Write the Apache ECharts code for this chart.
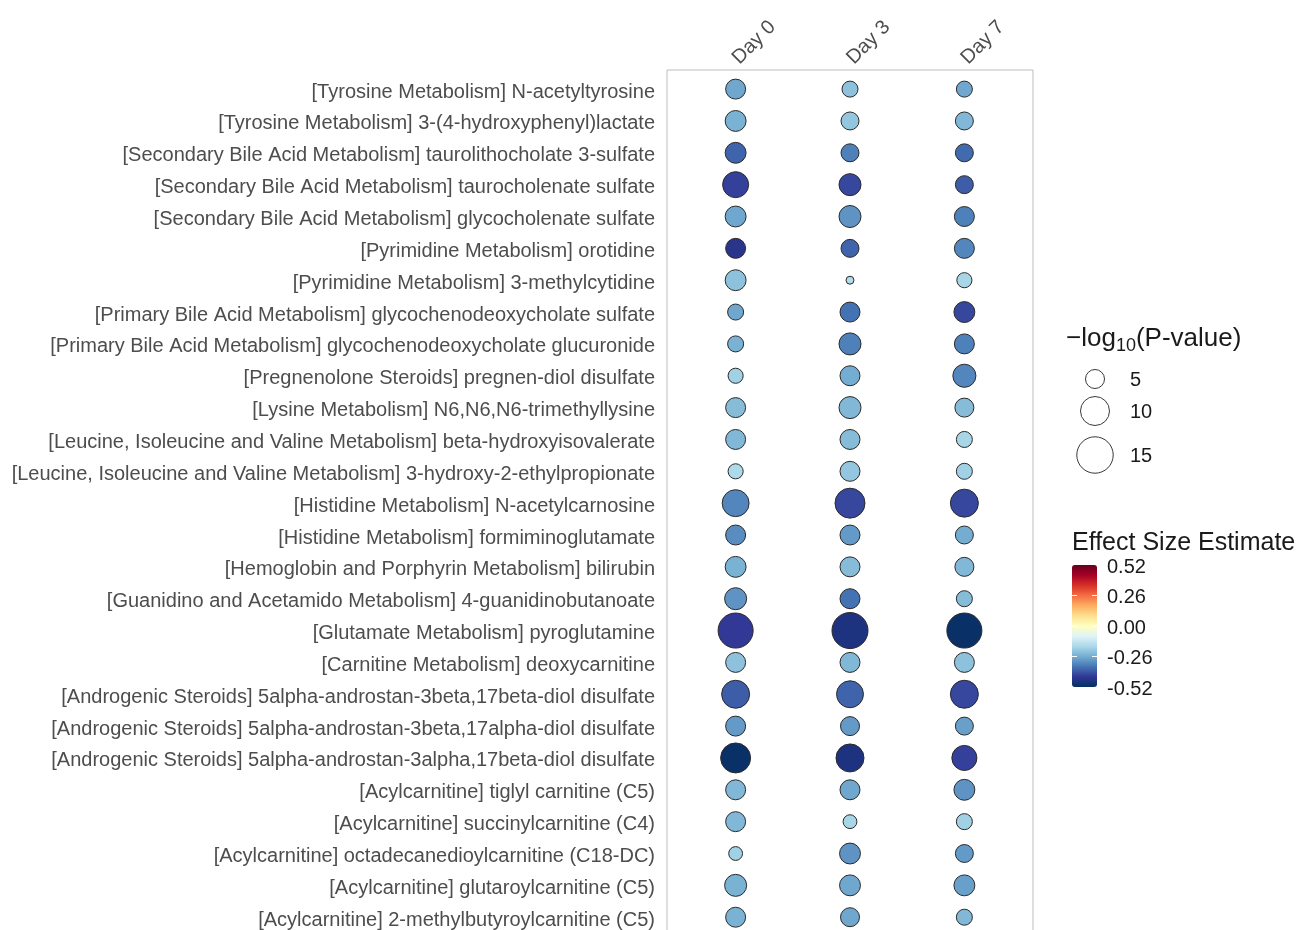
<!DOCTYPE html>
<html>
<head>
<meta charset="utf-8">
<script src="https://cdn.jsdelivr.net/npm/echarts@6/dist/echarts.min.js"></script>
<style>
  html, body { margin: 0; padding: 0; background: #ffffff; }
  #chart { width: 1302px; height: 930px; }
</style>
</head>
<body>
<div id="chart"></div>
<script>
// Metabolites, top to bottom
const metabolites = [
  '[Tyrosine Metabolism] N-acetyltyrosine',
  '[Tyrosine Metabolism] 3-(4-hydroxyphenyl)lactate',
  '[Secondary Bile Acid Metabolism] taurolithocholate 3-sulfate',
  '[Secondary Bile Acid Metabolism] taurocholenate sulfate',
  '[Secondary Bile Acid Metabolism] glycocholenate sulfate',
  '[Pyrimidine Metabolism] orotidine',
  '[Pyrimidine Metabolism] 3-methylcytidine',
  '[Primary Bile Acid Metabolism] glycochenodeoxycholate sulfate',
  '[Primary Bile Acid Metabolism] glycochenodeoxycholate glucuronide',
  '[Pregnenolone Steroids] pregnen-diol disulfate',
  '[Lysine Metabolism] N6,N6,N6-trimethyllysine',
  '[Leucine, Isoleucine and Valine Metabolism] beta-hydroxyisovalerate',
  '[Leucine, Isoleucine and Valine Metabolism] 3-hydroxy-2-ethylpropionate',
  '[Histidine Metabolism] N-acetylcarnosine',
  '[Histidine Metabolism] formiminoglutamate',
  '[Hemoglobin and Porphyrin Metabolism] bilirubin',
  '[Guanidino and Acetamido Metabolism] 4-guanidinobutanoate',
  '[Glutamate Metabolism] pyroglutamine',
  '[Carnitine Metabolism] deoxycarnitine',
  '[Androgenic Steroids] 5alpha-androstan-3beta,17beta-diol disulfate',
  '[Androgenic Steroids] 5alpha-androstan-3beta,17alpha-diol disulfate',
  '[Androgenic Steroids] 5alpha-androstan-3alpha,17beta-diol disulfate',
  '[Acylcarnitine] tiglyl carnitine (C5)',
  '[Acylcarnitine] succinylcarnitine (C4)',
  '[Acylcarnitine] octadecanedioylcarnitine (C18-DC)',
  '[Acylcarnitine] glutaroylcarnitine (C5)',
  '[Acylcarnitine] 2-methylbutyroylcarnitine (C5)'
];

const days = ['Day 0', 'Day 3', 'Day 7'];

// Effect size estimates per time point (same order as metabolites)
const effectDay0 = [-0.27, -0.25, -0.37, -0.42, -0.27, -0.45, -0.22, -0.27, -0.25, -0.19,
                    -0.23, -0.24, -0.17, -0.32, -0.31, -0.25, -0.30, -0.43, -0.22, -0.38,
                    -0.29, -0.51, -0.24, -0.24, -0.19, -0.25, -0.25];
const effectDay3 = [-0.22, -0.21, -0.33, -0.41, -0.30, -0.37, -0.16, -0.35, -0.33, -0.26,
                    -0.24, -0.23, -0.21, -0.41, -0.29, -0.23, -0.35, -0.47, -0.24, -0.37,
                    -0.29, -0.47, -0.27, -0.18, -0.30, -0.27, -0.27];
const effectDay7 = [-0.27, -0.24, -0.36, -0.38, -0.33, -0.32, -0.18, -0.41, -0.33, -0.32,
                    -0.23, -0.18, -0.19, -0.41, -0.26, -0.24, -0.23, -0.51, -0.22, -0.41,
                    -0.28, -0.42, -0.30, -0.19, -0.29, -0.28, -0.24];

// -log10(P-value) per time point
const negLog10PDay0 = [5.4, 5.8, 5.8, 8.3, 5.8, 5.4, 5.8, 3.9, 3.9, 3.6,
                       5.4, 5.4, 3.6, 8.8, 5.4, 5.8, 6.3, 14.0, 5.4, 9.4,
                       5.4, 10.6, 5.4, 5.4, 3.2, 6.3, 5.4];
const negLog10PDay3 = [3.9, 4.6, 4.6, 6.3, 6.3, 4.6, 1.8, 5.4, 6.3, 5.4,
                       6.3, 5.4, 5.4, 10.6, 5.4, 5.4, 5.4, 14.7, 5.4, 8.8,
                       5.0, 9.4, 5.4, 3.2, 5.8, 5.8, 5.0];
const negLog10PDay7 = [3.9, 4.6, 4.6, 4.6, 5.4, 5.4, 3.6, 5.8, 5.4, 6.8,
                       5.0, 3.9, 3.9, 9.4, 4.6, 5.0, 3.9, 14.0, 5.4, 9.4,
                       4.6, 7.8, 5.8, 3.9, 4.6, 5.8, 3.9];

// Legend breaks
const sizeBreaks = [5, 10, 15];
const colorTicks = [0.52, 0.26, 0.00, -0.26, -0.52];

const effectByDay = [effectDay0, effectDay3, effectDay7];
const pByDay = [negLog10PDay0, negLog10PDay3, negLog10PDay7];

// Area-proportional size scale
function dotSize(v) { return 10 * Math.sqrt(Math.max(v - 1, 0.05)) - 1; }

const points = [];
days.forEach(function (d, di) {
  metabolites.forEach(function (m, mi) {
    points.push([di, mi, effectByDay[di][mi], pByDay[di][mi]]);
  });
});

const palette = ['#053061', '#313695', '#4575b4', '#74add1', '#abd9e9', '#e0f3f8', '#ffffbf',
                 '#fee090', '#fdae61', '#f46d43', '#d73027', '#a50026', '#67001f'];

const FONT = '"Liberation Sans", Arial, sans-serif';
const gridLeft = 667, gridTop = 70, gridWidth = 366;
const rowStep = 31.85;
const gridHeight = rowStep * (metabolites.length + 0.2);

// Colour bar geometry
const barLeft = 1072, barTop = 565, barW = 25, barH = 122;
const cMin = colorTicks[colorTicks.length - 1], cMax = colorTicks[0];
function barY(v) { return barTop + (cMax - v) / (cMax - cMin) * barH; }

const graphics = [];

// -log10(P-value) legend
graphics.push({
  type: 'text', left: 1066, top: 322,
  style: {
    text: '{a|\u2212log}{s|10}{a|(P-value)}',
    rich: {
      a: { fontSize: 26, fontFamily: FONT, fill: '#1a1a1a', lineHeight: 32, verticalAlign: 'middle' },
      s: { fontSize: 18, fontFamily: FONT, fill: '#1a1a1a', lineHeight: 32, verticalAlign: 'bottom', padding: [15, 0, 0, 0] }
    }
  }
});
const sizeRowY = [379, 411, 455];
sizeBreaks.forEach(function (b, i) {
  graphics.push({
    type: 'circle', shape: { cx: 1095, cy: sizeRowY[i], r: dotSize(b) / 2 },
    style: { fill: '#ffffff', stroke: '#3a3a3a', lineWidth: 1 }
  });
  graphics.push({
    type: 'text', x: 1130, y: sizeRowY[i] + 1,
    style: { text: String(b), fontSize: 20, fontFamily: FONT, fill: '#1a1a1a', textVerticalAlign: 'middle', textAlign: 'left' }
  });
});

// Effect size legend
graphics.push({
  type: 'text', x: 1072, y: 543,
  style: { text: 'Effect Size Estimate', fontSize: 25, fontFamily: FONT, fill: '#1a1a1a', textVerticalAlign: 'middle' }
});
colorTicks.forEach(function (t) {
  const y = barY(t);
  graphics.push({
    type: 'text', x: 1107, y: y + 2,
    style: { text: t.toFixed(2), fontSize: 20, fontFamily: FONT, fill: '#1a1a1a', textVerticalAlign: 'middle' }
  });
  if (t !== cMin && t !== cMax) {
    graphics.push({ type: 'line', z: 100, shape: { x1: barLeft, y1: y, x2: barLeft + 5, y2: y }, style: { stroke: '#ffffff', lineWidth: 1 } });
    graphics.push({ type: 'line', z: 100, shape: { x1: barLeft + barW - 5, y1: y, x2: barLeft + barW, y2: y }, style: { stroke: '#ffffff', lineWidth: 1 } });
  }
});

const chart = echarts.init(document.getElementById('chart'), null, { renderer: 'canvas' });
chart.setOption({
  backgroundColor: '#ffffff',
  animation: false,
  textStyle: { fontFamily: FONT },
  grid: {
    left: gridLeft, top: gridTop, width: gridWidth, height: gridHeight,
    outerBoundsMode: 'none', containLabel: false,
    show: true, borderColor: '#bdbdbd', borderWidth: 1, backgroundColor: '#ffffff'
  },
  xAxis: {
    type: 'value', position: 'top', min: -0.6, max: days.length - 1 + 0.6,
    axisLine: { show: false }, axisTick: { show: false }, splitLine: { show: false },
    axisLabel: {
      customValues: days.map(function (d, i) { return i; }),
      formatter: function (v) { return days[Math.round(v)] || ''; },
      rotate: 45, margin: 9, fontSize: 20, color: '#4d4d4d', fontFamily: FONT
    }
  },
  yAxis: {
    type: 'value', inverse: true, min: -0.6, max: metabolites.length - 1 + 0.6,
    axisLine: { show: false }, axisTick: { show: false }, splitLine: { show: false },
    axisLabel: {
      customValues: metabolites.map(function (m, i) { return i; }),
      formatter: function (v) { return metabolites[Math.round(v)] || ''; },
      margin: 12, fontSize: 20, color: '#4d4d4d', fontFamily: FONT,
      verticalAlign: 'top', lineHeight: 6
    }
  },
  visualMap: {
    type: 'continuous', dimension: 2, min: cMin, max: cMax,
    calculable: false, realtime: false, hoverLink: false,
    left: barLeft - 5, top: barTop - 5, padding: 5,
    itemWidth: barW, itemHeight: barH,
    text: null, showLabel: false,
    inRange: { color: palette }
  },
  series: [{
    type: 'scatter',
    data: points,
    symbol: 'circle',
    symbolSize: function (val) { return dotSize(val[3]); },
    itemStyle: { borderColor: '#2a2a2a', borderWidth: 1, opacity: 1 },
    emphasis: { disabled: true }
  }],
  graphic: graphics
});
</script>
</body>
</html>
